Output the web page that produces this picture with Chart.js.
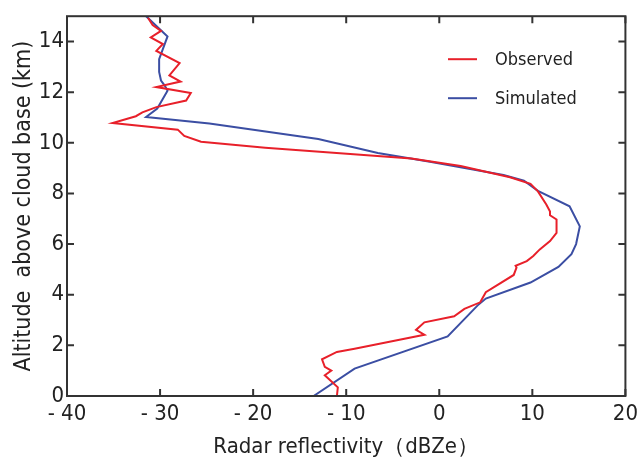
<!DOCTYPE html>
<html>
<head>
<meta charset="utf-8">
<script src="https://cdn.jsdelivr.net/npm/chart.js@4"></script>
<style>
  html, body { margin: 0; padding: 0; background: #fff; }
  #wrap { width: 643px; height: 460px; }
</style>
</head>
<body>
<div id="wrap"><canvas id="radarChart"></canvas></div>
<script>
// Observed profile (dBZe vs km above cloud base)
const obsRef = [-11.0, -10.9, -12.3, -11.6, -12.3, -12.6, -11.0, -9.1, -1.6, -2.5, -1.6, 1.6, 2.7, 4.4, 5.0, 8.0, 8.3, 8.2, 9.4, 10.1, 10.8, 11.9, 12.6, 12.6, 11.9, 11.9, 11.5, 10.6, 9.8, 7.6, 2.3, -3.0, -18.7, -25.6, -27.4, -28.1, -35.1, -32.6, -31.9, -30.4, -27.2, -26.7, -30.4, -27.8, -29.0, -27.9, -30.4, -29.7, -31.0, -29.9, -30.8, -31.3];
const obsAlt = [0.0, 0.34, 0.82, 1.0, 1.15, 1.45, 1.74, 1.87, 2.42, 2.61, 2.91, 3.15, 3.44, 3.7, 4.1, 4.78, 5.07, 5.14, 5.33, 5.53, 5.79, 6.12, 6.44, 6.97, 7.14, 7.29, 7.56, 8.08, 8.38, 8.64, 9.08, 9.38, 9.8, 10.04, 10.27, 10.52, 10.78, 11.05, 11.2, 11.41, 11.67, 11.97, 12.2, 12.42, 12.66, 13.15, 13.63, 13.9, 14.16, 14.42, 14.65, 14.94];

// Simulated profile
const simRef = [-13.5, -9.1, 0.9, 4.1, 5.0, 9.8, 12.8, 14.2, 14.7, 15.1, 14.0, 10.6, 9.1, 6.9, -1.0, -6.6, -13.0, -24.7, -31.5, -30.3, -29.2, -29.5, -29.9, -30.1, -30.1, -29.2, -31.5];
const simAlt = [0.0, 1.08, 2.35, 3.57, 3.85, 4.48, 5.1, 5.6, 6.0, 6.7, 7.49, 8.1, 8.5, 8.73, 9.25, 9.6, 10.15, 10.76, 11.02, 11.35, 12.06, 12.26, 12.46, 12.8, 13.3, 14.2, 15.0];

const xTicks = [-40, -30, -20, -10, 0, 10, 20];
const yTicks = [0, 2, 4, 6, 8, 10, 12, 14];

const FONT = "'Liberation Sans Narrow', 'DejaVu Sans Condensed', sans-serif";
const RED = "#e8202a";
const BLUE = "#3b4ea3";

function toPoints(xs, ys) {
  return xs.map(function (x, i) { return { x: x, y: ys[i] }; });
}

// inward ticks on all four sides + legend inside plot
const framePlugin = {
  id: "frame",
  afterDraw: function (chart) {
    const ctx = chart.ctx;
    const a = chart.chartArea;
    const sx = chart.scales.x;
    const sy = chart.scales.y;
    ctx.save();
    ctx.strokeStyle = "#333";
    ctx.lineWidth = 2;
    ctx.strokeRect(a.left, a.top, a.right - a.left, a.bottom - a.top);
    ctx.beginPath();
    xTicks.forEach(function (v) {
      const px = sx.getPixelForValue(v);
      ctx.moveTo(px, a.bottom); ctx.lineTo(px, a.bottom - 7);
      ctx.moveTo(px, a.top); ctx.lineTo(px, a.top + 7);
    });
    yTicks.forEach(function (v) {
      const py = sy.getPixelForValue(v);
      ctx.moveTo(a.left, py); ctx.lineTo(a.left + 7, py);
      ctx.moveTo(a.right, py); ctx.lineTo(a.right - 7, py);
    });
    ctx.stroke();

    // legend
    ctx.font = "18px " + FONT;
    ctx.textBaseline = "middle";
    ctx.fillStyle = "#222";
    chart.data.datasets.forEach(function (ds, i) {
      const y = a.top + 43 + i * 39;
      ctx.strokeStyle = ds.borderColor;
      ctx.lineWidth = 2;
      ctx.beginPath();
      ctx.moveTo(448, y); ctx.lineTo(477, y);
      ctx.stroke();
      ctx.fillText(ds.label, 495, y + 1);
    });
    ctx.restore();
  }
};

new Chart(document.getElementById("radarChart"), {
  type: "scatter",
  data: {
    datasets: [
      {
        label: "Observed",
        data: toPoints(obsRef, obsAlt),
        showLine: true,
        borderColor: RED,
        borderWidth: 2,
        pointRadius: 0,
        tension: 0,
      },
      {
        label: "Simulated",
        data: toPoints(simRef, simAlt),
        showLine: true,
        borderColor: BLUE,
        borderWidth: 2,
        pointRadius: 0,
        tension: 0,
      },
    ],
  },
  options: {
    responsive: true,
    maintainAspectRatio: false,
    animation: false,
    layout: { padding: { top: 15, right: 14, left: 0, bottom: 0 } },
    plugins: {
      legend: { display: false },
      tooltip: { enabled: false },
    },
    scales: {
      x: {
        type: "linear",
        min: -40,
        max: 20,
        afterBuildTicks: function (s) { s.ticks = xTicks.map(function (v) { return { value: v }; }); },
        afterFit: function (s) { s.height = 64; },
        grid: { display: false, drawTicks: false },
        border: { display: false },
        ticks: {
          padding: 5,
          color: "#222",
          font: { family: FONT, size: 22 },
          callback: function (v) { return v < 0 ? "- " + Math.abs(v) : String(v); },
        },
        title: {
          display: true,
          text: "Radar reflectivity（dBZe）",
          color: "#222",
          font: { family: FONT, size: 22 },
          padding: { top: -7, bottom: 0 },
        },
      },
      y: {
        type: "linear",
        min: 0,
        max: 15,
        afterBuildTicks: function (s) { s.ticks = yTicks.map(function (v) { return { value: v }; }); },
        afterFit: function (s) { s.width = 67; },
        grid: { display: false, drawTicks: false },
        border: { display: false },
        ticks: {
          padding: 3,
          color: "#222",
          font: { family: FONT, size: 22 },
        },
        title: {
          display: true,
          text: "Altitude  above cloud base (km)",
          color: "#222",
          font: { family: FONT, size: 23 },
          padding: { top: 10, bottom: 0 },
        },
      },
    },
  },
  plugins: [framePlugin],
});
</script>
</body>
</html>
